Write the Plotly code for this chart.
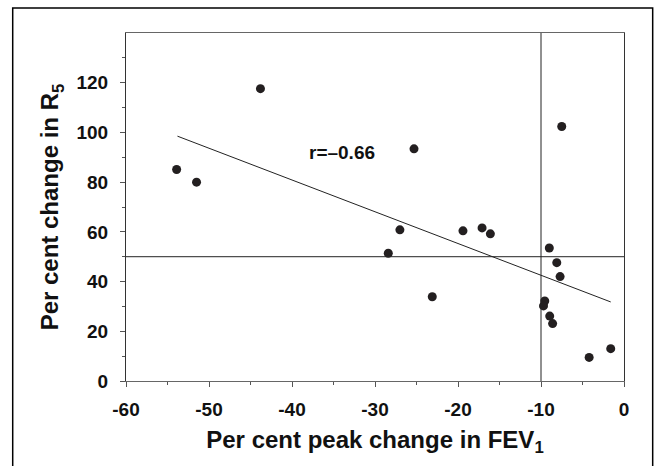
import plotly.graph_objects as go

# Data
fev1_change = [-53.9, -51.5, -43.8, -25.3, -27.0, -28.4, -23.1, -19.4, -17.1, -16.1,
               -9.0, -8.1, -7.7, -9.55, -9.7, -8.95, -8.6, -4.2, -1.6, -7.5]
r5_change = [85.1, 80.0, 117.6, 93.4, 60.8, 51.4, 33.9, 60.4, 61.6, 59.2,
             53.5, 47.6, 42.0, 32.2, 30.2, 26.1, 23.1, 9.5, 13.0, 102.4]

fit_x = [-53.8, -1.6]
fit_y = [98.5, 31.8]

ref_x = -10
ref_y = 50

x_ticks = [-60, -50, -40, -30, -20, -10, 0]
x_ticklabels = ["-60", "-50", "-40", "-30", "-20", "-10", "0"]
x_minor = [-55, -45, -35, -25, -15, -5]
y_ticks = [0, 20, 40, 60, 80, 100, 120]
y_ticklabels = ["0", "20", "40", "60", "80", "100", "120"]
y_minor = [10, 30, 50, 70, 90, 110, 130]

r_label = "r=–0.66"
r_pos = (-34.0, 91.9)

FONT = "Liberation Sans, Arial, sans-serif"

fig = go.Figure()

fig.add_trace(go.Scatter(x=fit_x, y=fit_y, mode="lines",
                         line=dict(color="#222222", width=1), hoverinfo="skip",
                         showlegend=False))
fig.add_trace(go.Scatter(x=fev1_change, y=r5_change, mode="markers",
                         marker=dict(size=9, color="#231f20"), showlegend=False))

fig.add_vline(x=ref_x, line=dict(color="#222222", width=1))
fig.add_hline(y=ref_y, line=dict(color="#222222", width=1))

fig.add_annotation(x=r_pos[0], y=r_pos[1], text=r_label, showarrow=False,
                   font=dict(family=FONT, size=19, color="#111111", weight="bold"),
                   xanchor="center", yanchor="middle")

# outer frame (left, top, right)
fig.add_shape(type="path", xref="paper", yref="paper",
              path="M -0.2275,-0.3 L -0.2275,1.0717 L 1.0576,1.0717 L 1.0576,-0.3",
              line=dict(color="#000000", width=1.5))

fig.update_layout(
    width=660, height=466,
    margin=dict(l=126, r=36, t=33, b=85),
    paper_bgcolor="white", plot_bgcolor="white",
    font=dict(family=FONT, color="#111111"),
    xaxis=dict(
        range=[-60, 0], tickmode="array", tickvals=x_ticks, ticktext=x_ticklabels,
        ticks="outside", ticklen=5, tickwidth=1, tickcolor="#555555",
        showgrid=False, zeroline=False,
        showline=True, linecolor="#666666", linewidth=1.2, mirror=True,
        tickfont=dict(family=FONT, size=19, color="#111111", weight="bold"),
        ticklabelstandoff=6,
        minor=dict(tickmode="array", tickvals=x_minor, ticks="outside", ticklen=3,
                   tickcolor="#555555", showgrid=False),
        title=dict(text="Per cent peak change in FEV<sub>1</sub>",
                   font=dict(family=FONT, size=24, color="#111111", weight="bold"),
                   standoff=12),
    ),
    yaxis=dict(
        range=[0, 140], tickmode="array", tickvals=y_ticks, ticktext=y_ticklabels,
        ticks="outside", ticklen=5, tickwidth=1, tickcolor="#555555",
        showgrid=False, zeroline=False,
        showline=True, linecolor="#333333", linewidth=1.2, mirror=True,
        tickfont=dict(family=FONT, size=19, color="#111111", weight="bold"),
        ticklabelstandoff=8,
        minor=dict(tickmode="array", tickvals=y_minor, ticks="outside", ticklen=3,
                   tickcolor="#555555", showgrid=False),
        title=dict(text="Per cent change in R<sub>5</sub>",
                   font=dict(family=FONT, size=24, color="#111111", weight="bold"),
                   standoff=10),
    ),
)

fig.write_html("out.html")
